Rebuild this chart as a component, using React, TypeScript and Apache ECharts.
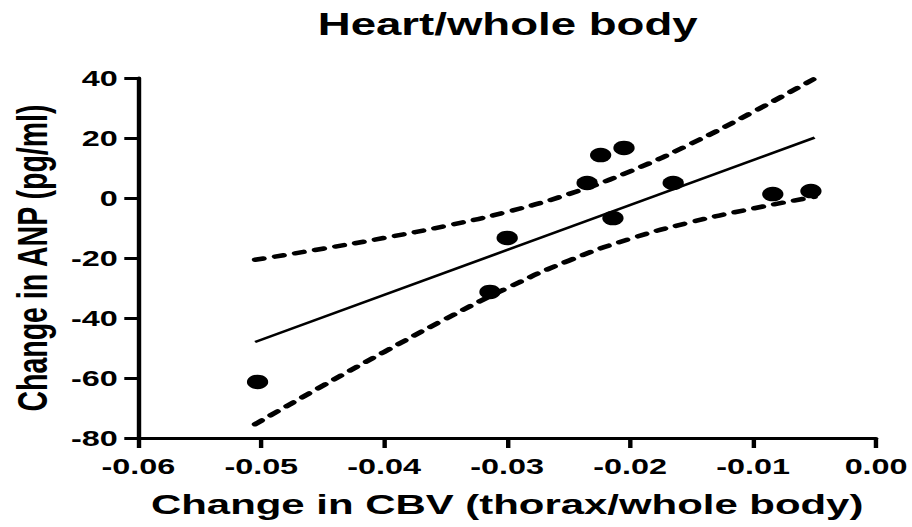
import React, { useEffect, useRef } from "react";
import * as echarts from "echarts";

// Observed points: [change in CBV, change in ANP]
const cbvValues = [-0.0503, -0.0314, -0.03, -0.0235, -0.0224, -0.0205, -0.0214, -0.0165, -0.0084, -0.0053];
const anpValues = [-61.3, -31.3, -13.3, 5.0, 14.3, 16.7, -6.7, 5.0, 1.3, 2.3];

// Regression line end points
const fitX = [-0.0505, -0.005];
const fitY = [-48.0, 20.1];

// Confidence band
const bandX = [-0.0505, -0.045, -0.04, -0.035, -0.03, -0.025, -0.02, -0.015, -0.01, -0.005];
const bandUpper = [-20.6, -16.9, -13.3, -9.3, -4.6, 1.3, 8.9, 18.2, 28.7, 39.8];
const bandLower = [-75.4, -62.6, -51.3, -40.3, -30.0, -20.9, -13.6, -8.0, -3.5, 0.4];

const titleText = "Heart/whole body";
const xName = "Change in CBV (thorax/whole body)";
const yName = "Change in ANP (pg/ml)";

const FONT = "'Liberation Sans', Arial, Helvetica, sans-serif";
const STRETCH = 912 / 620;

export default function App() {
  const ref = useRef<HTMLDivElement>(null);
  useEffect(() => {
    if (!ref.current) return;
    const chart = echarts.init(ref.current, undefined, { renderer: "svg" });
    const zip = (xs: number[], ys: number[]) => xs.map((x, i) => [x, ys[i]]);
    const dash = {
      color: "#000",
      width: 4.5,
      type: [6, 8] as any,
      cap: "round" as any,
    };
    chart.setOption({
      animation: false,
      backgroundColor: "#fff",
      title: {
        text: titleText,
        left: 211,
        top: 4,
        textStyle: { fontFamily: FONT, fontSize: 31, fontWeight: "bold", color: "#000" },
      },
      grid: { left: 88.8, right: 23.4, top: 78, bottom: 89 },
      xAxis: {
        type: "value",
        min: -0.06,
        max: 0,
        interval: 0.01,
        name: xName,
        nameLocation: "middle",
        nameGap: 52,
        nameTextStyle: { fontFamily: FONT, fontSize: 28.5, fontWeight: "bold", color: "#000" },
        axisLine: { onZero: false, lineStyle: { color: "#000", width: 3 } },
        axisTick: { show: true, length: 10, lineStyle: { color: "#000", width: 3 } },
        splitLine: { show: false },
        axisLabel: {
          margin: 17,
          fontFamily: FONT,
          fontSize: 22,
          fontWeight: "bold",
          color: "#000",
          formatter: (v: number) => v.toFixed(2),
        },
      },
      yAxis: {
        type: "value",
        min: -80,
        max: 40,
        interval: 20,
        name: yName,
        nameLocation: "middle",
        nameGap: 57,
        nameTextStyle: { fontFamily: FONT, fontSize: 28.5, fontWeight: "bold", color: "#000" },
        axisLine: { onZero: false, lineStyle: { color: "#000", width: 3 } },
        axisTick: { show: true, length: 9.5, lineStyle: { color: "#000", width: 3 } },
        splitLine: { show: false },
        axisLabel: {
          margin: 14,
          fontFamily: FONT,
          fontSize: 22,
          fontWeight: "bold",
          color: "#000",
        },
      },
      series: [
        {
          type: "line",
          data: zip(bandX, bandUpper),
          smooth: true,
          symbol: "none",
          lineStyle: dash,
        },
        {
          type: "line",
          data: zip(bandX, bandLower),
          smooth: true,
          symbol: "none",
          lineStyle: dash,
        },
        {
          type: "line",
          data: zip(fitX, fitY),
          symbol: "none",
          lineStyle: { color: "#000", width: 2.5 },
        },
        {
          type: "scatter",
          data: zip(cbvValues, anpValues),
          symbol: "circle",
          symbolSize: 14.5,
          itemStyle: { color: "#000", opacity: 1 },
          z: 5,
        },
      ],
    });
    return () => chart.dispose();
  }, []);
  return (
    <div
      ref={ref}
      style={{
        position: "fixed",
        left: 0,
        top: 0,
        width: 620,
        height: 527,
        transform: `scaleX(${STRETCH})`,
        transformOrigin: "0 0",
      }}
    />
  );
}
